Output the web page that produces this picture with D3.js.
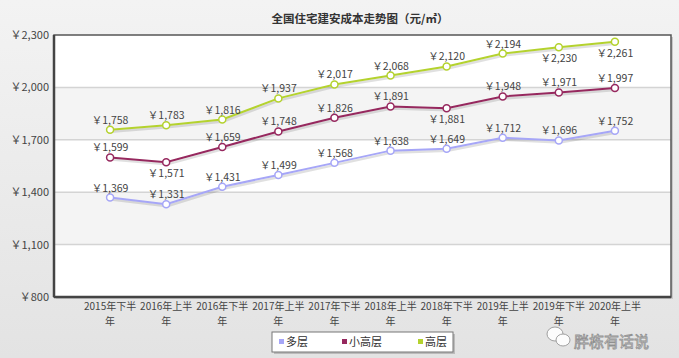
<!DOCTYPE html>
<html><head><meta charset="utf-8">
<script src="https://cdn.jsdelivr.net/npm/d3@7"></script>
<style>body{margin:0;}svg{display:block;}</style>
</head><body>
<script>
const categories = ["2015年下半年","2016年上半年","2016年下半年","2017年上半年","2017年下半年","2018年上半年","2018年下半年","2019年上半年","2019年下半年","2020年上半年"];
const multi = [1369,1331,1431,1499,1568,1638,1649,1712,1696,1752];
const smallHigh = [1599,1571,1659,1748,1826,1891,1881,1948,1971,1997];
const high = [1758,1783,1816,1937,2017,2068,2120,2194,2230,2261];
const seriesNames = ["多层","小高层","高层"];
const yTicks = [800,1100,1400,1700,2000,2300];
// label below point?
const belowMulti = [0,0,0,0,0,0,0,0,0,0];
const belowSmall = [0,1,0,0,0,0,1,0,0,0];
const belowHigh = [0,0,0,0,0,0,0,0,1,1];

const W=679,H=358;
const L=54,R=671,T=35,B=297;
const svg=d3.select("body").append("svg").attr("width",W).attr("height",H);
const defs=svg.append("defs");
const g1=defs.append("linearGradient").attr("id","bg").attr("x1",0).attr("y1",0).attr("x2",0).attr("y2",1);
g1.append("stop").attr("offset","0%").attr("stop-color","#f3f3f3");
g1.append("stop").attr("offset","100%").attr("stop-color","#e3e3e3");
svg.append("rect").attr("width",W).attr("height",H).attr("fill","url(#bg)");

const x=d3.scalePoint().domain(categories).range([L,R]).padding(1);
const y=d3.scaleLinear().domain([800,2300]).range([B,T]);

// plot shadow
svg.append("rect").attr("x",L+2).attr("y",T+2).attr("width",R-L).attr("height",B-T).attr("fill","#c8c8c8");
svg.append("rect").attr("x",L).attr("y",T).attr("width",R-L).attr("height",B-T).attr("fill","#fff");
// bands
for(let i=0;i<yTicks.length-1;i++){
  if(i%2===1){
    svg.append("rect").attr("x",L).attr("y",y(yTicks[i+1])).attr("width",R-L)
      .attr("height",y(yTicks[i])-y(yTicks[i+1])).attr("fill","#f4f4f4");
  }
}
// grid
svg.append("g").selectAll("line").data(yTicks.slice(1,-1)).join("line")
  .attr("x1",L).attr("x2",R).attr("y1",d=>y(d)).attr("y2",d=>y(d))
  .attr("stroke","#d4d4d4").attr("stroke-width",1.5);
// border
svg.append("rect").attr("x",L).attr("y",T).attr("width",R-L).attr("height",B-T)
  .attr("fill","none").attr("stroke","#555").attr("stroke-width",1.5);
svg.append("line").attr("x1",L).attr("x2",L).attr("y1",T).attr("y2",B).attr("stroke","#444").attr("stroke-width",2.5);
svg.append("line").attr("x1",L).attr("x2",R).attr("y1",B).attr("y2",B).attr("stroke","#444").attr("stroke-width",2.5);

const font="'Noto Sans CJK SC','Noto Sans',sans-serif";
// y axis
const fmt=d3.format(",");
svg.append("g").selectAll("text").data(yTicks).join("text")
  .attr("x",L-5).attr("y",d=>y(d)+4).attr("text-anchor","end")
  .attr("font-family",font).attr("font-size",11).attr("fill","#444")
  .text(d=>"￥"+fmt(d));
// x axis labels (wrapped on two lines)
const xg=svg.append("g").attr("font-family",font).attr("font-size",10).attr("fill","#444").attr("text-anchor","middle");
xg.selectAll("text.l1").data(categories).join("text").attr("class","l1")
  .attr("x",d=>x(d)).attr("y",310).text(d=>d.slice(0,-1));
xg.selectAll("text.l2").data(categories).join("text").attr("class","l2")
  .attr("x",d=>x(d)).attr("y",325).text(d=>d.slice(-1));

// title
svg.append("text").attr("x",360).attr("y",23).attr("text-anchor","middle")
  .attr("font-family",font).attr("font-size",11.5).attr("font-weight","bold").attr("fill","#333")
  .text("全国住宅建安成本走势图（元/㎡）");

const series=[
  {name:seriesNames[0],vals:multi,below:belowMulti,color:"#a6a6f7"},
  {name:seriesNames[1],vals:smallHigh,below:belowSmall,color:"#96285e"},
  {name:seriesNames[2],vals:high,below:belowHigh,color:"#b4d22e"}
];
const line=d3.line().x((d,i)=>x(categories[i])).y(d=>y(d));
series.forEach(s=>{
  svg.append("path").datum(s.vals).attr("d",line).attr("fill","none")
    .attr("stroke","#000").attr("stroke-opacity",0.12).attr("stroke-width",2.5)
    .attr("transform","translate(1,2)");
  svg.append("path").datum(s.vals).attr("d",line).attr("fill","none")
    .attr("stroke",s.color).attr("stroke-width",2);
  svg.append("g").selectAll("circle").data(s.vals).join("circle")
    .attr("cx",(d,i)=>x(categories[i])).attr("cy",d=>y(d)).attr("r",3.5)
    .attr("fill","#fff").attr("stroke",s.color).attr("stroke-width",1.5);
  svg.append("g").selectAll("text").data(s.vals).join("text")
    .attr("x",(d,i)=>x(categories[i])).attr("y",(d,i)=>s.below[i]?y(d)+15:y(d)-6)
    .attr("text-anchor","middle").attr("font-family",font).attr("font-size",10.5).attr("fill","#444")
    .text(d=>"￥"+fmt(d));
});

// legend
svg.append("rect").attr("x",274).attr("y",334).attr("width",181).attr("height",20).attr("fill","#bbb");
svg.append("rect").attr("x",272).attr("y",332).attr("width",181).attr("height",20).attr("fill","#fff").attr("stroke","#777");
const lx=[279,342,418];
series.forEach((s,i)=>{
  svg.append("rect").attr("x",lx[i]).attr("y",339).attr("width",5).attr("height",5).attr("fill",s.color);
  svg.append("text").attr("x",lx[i]+7).attr("y",346).attr("font-family",font).attr("font-size",11)
    .attr("fill","#333").text(s.name);
});

// watermark
const wm=svg.append("g").attr("opacity",0.9);
wm.append("ellipse").attr("cx",555).attr("cy",334).attr("rx",8).attr("ry",7).attr("fill","#fff").attr("stroke","#999");
wm.append("ellipse").attr("cx",563).attr("cy",340).attr("rx",7).attr("ry",6).attr("fill","#fff").attr("stroke","#999");
wm.append("text").attr("x",574).attr("y",347).attr("font-family",font).attr("font-size",15)
  .attr("fill","#fff").attr("stroke","#888").attr("stroke-width",0.8).text("胖栋有话说");
</script>
</body></html>
